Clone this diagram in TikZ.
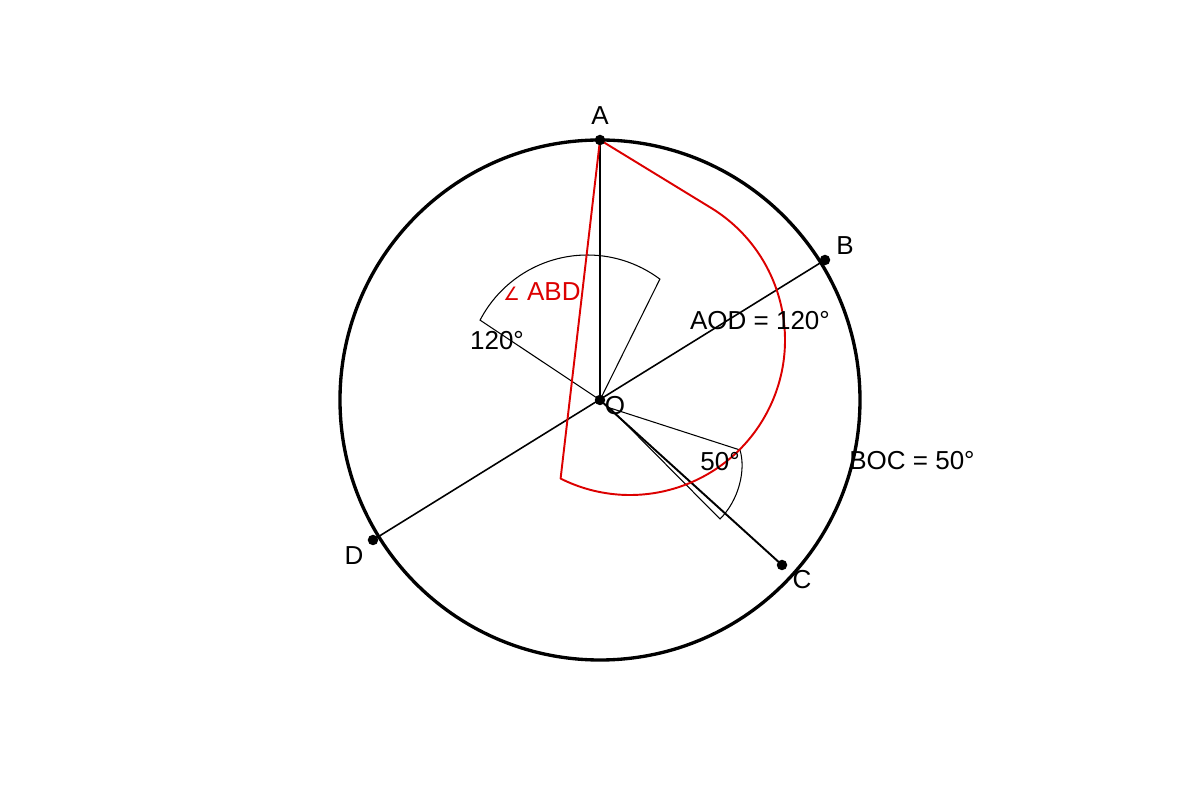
\documentclass[tikz,border=0pt]{standalone}
\usepackage{fontspec}
\setmainfont{Liberation Sans}
\newfontfamily\symfont{DejaVu Sans}
\usetikzlibrary{arrows}
\definecolor{angred}{RGB}{220,0,0}
\tikzset{
	dot/.style={circle,fill=black,inner sep=0pt,minimum size=0.21cm},
	txt/.style={font=\fontsize{14.8}{17}\selectfont,inner sep=0pt},
	wedge/.style={draw,line width=0.6pt},
	redmark/.style={draw=angred,line width=1.1pt,line join=round}
}

\begin{document}
\begin{tikzpicture}[x=0.02cm,y=0.02cm]
	\useasboundingbox (-600,-400) rectangle (600,400);
	\coordinate (O) at (0,0);
	\coordinate (A) at (90:260);
	\coordinate (B) at (225,140);
	\coordinate (D) at (-227,-140);
	\coordinate (C) at (182,-165);
	\coordinate (W) at (10,-8);
	\coordinate (R) at (30,60);
	\coordinate (K) at (-12.6,24);
	% circle and radii
	\draw[line width=1.9pt] (O) circle[radius=260];
	\draw[line width=1.1pt] (A) -- (O);
	\draw[line width=0.9pt] (B) -- (D);
	\draw[line width=1.1pt] (O) -- (C);
	% angle wedges
	\draw[wedge] (O) -- ([shift={(152.5:121)}]K) arc[start angle=152.5,end angle=53.2,radius=121] -- cycle;
	\draw[wedge] (W) -- (140,-50) .. controls (146,-70) and (139,-100) .. (120,-119) -- cycle;
	% red marker
	\draw[redmark] (A) -- ([shift={(59.3:155)}]R) arc[start angle=59.3,end angle=-116.6,radius=155] -- cycle;
	% points
	\foreach \p in {A,B,C,D,O}
		\node[dot] at (\p) {};
	% labels
	\node[txt] (lA) at (0,284) {A};
	\node[txt] (lB) at (245,154) {B};
	\node[txt] (lC) at (202,-180) {C};
	\node[txt] (lD) at (-246,-156) {D};
	\node[txt] (lO) at (15,-6) {O};
	\node[txt,text=angred] (lABD) at (-58,108) {{\symfont\fontsize{10.5}{13}\selectfont ∠} ABD};
	\node[txt] (l120) at (-103,59) {120°};
	\node[txt] (lAOD) at (160,79) {AOD = 120°};
	\node[txt] (l50) at (120,-62) {50°};
	\node[txt] (lBOC) at (312,-61) {BOC = 50°};
\end{tikzpicture}
\end{document}
